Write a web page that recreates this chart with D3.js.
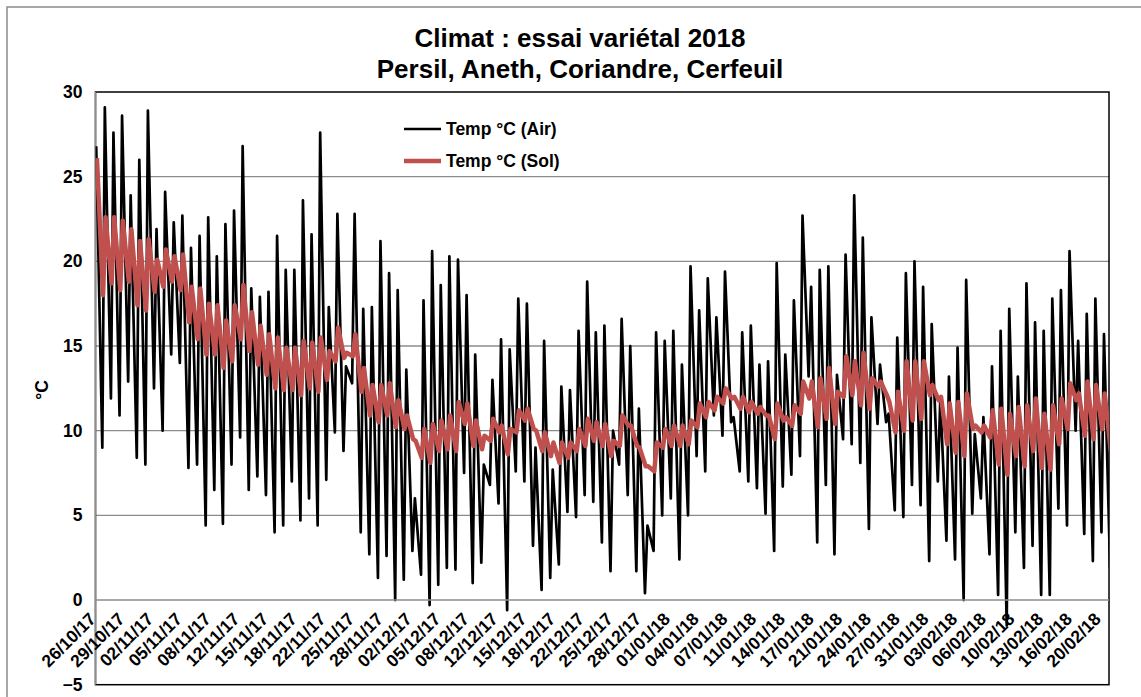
<!DOCTYPE html>
<html>
<head>
<meta charset="utf-8">
<script src="https://cdn.jsdelivr.net/npm/d3@7"></script>
<style>
  html, body { margin: 0; padding: 0; background: #fff; }
  svg { display: block; font-family: "Liberation Sans", Arial, sans-serif; }
</style>
</head>
<body>
<svg id="chart" width="1141" height="697"></svg>
<script>
// ---- Data ----
// Tick labels every 80 hourly records, first record 26/10/17 ~12:00
const tickLabels = ["26/10/17","29/10/17","02/11/17","05/11/17","08/11/17","12/11/17","15/11/17","18/11/17",
  "22/11/17","25/11/17","28/11/17","02/12/17","05/12/17","08/12/17","12/12/17","15/12/17","18/12/17",
  "22/12/17","25/12/17","28/12/17","01/01/18","04/01/18","07/01/18","11/01/18","14/01/18","17/01/18",
  "21/01/18","24/01/18","27/01/18","31/01/18","03/02/18","06/02/18","10/02/18","13/02/18","16/02/18","20/02/18"];
const tickStepHours = 80;
const totalHours = 2824;

// Daily air temperature maxima (afternoon) and following minima (early morning), °C
const airMax = [26.8,29.1,27.6,28.6,23.9,26.0,28.9,21.9,24.1,22.3,
  22.7,20.8,21.5,22.6,20.3,22.2,23.0,26.8,18.4,17.9,
  18.2,21.5,19.5,19.5,23.6,21.6,27.6,17.3,22.8,13.8,
  22.8,17.2,17.3,21.2,19.3,18.3,13.6,6.0,17.7,20.6,
  18.6,20.3,20.1,18.0,14.5,8.0,13.0,15.4,14.8,17.8,
  17.5,9.0,15.3,7.7,12.6,12.4,15.9,18.8,15.8,16.2,
  10.0,16.6,15.0,11.3,4.4,15.8,15.3,15.9,13.9,19.7,
  17.1,19.0,16.7,19.4,10.8,15.8,16.2,13.9,14.1,19.9,
  14.5,17.7,22.7,18.5,19.5,19.7,13.3,20.4,23.9,21.4,
  16.7,13.9,11.0,15.5,19.3,20.0,18.5,16.3,11.9,13.2,
  14.9,18.9,9.8,10.8,13.8,15.9,17.2,13.2,18.7,16.4,
  15.9,17.8,18.3,20.6,15.3,16.9,17.8,15.7];
const airMin = [9.0,11.9,10.9,12.9,8.4,8.0,12.5,10.0,14.5,14.0,
  7.8,8.0,4.4,6.5,4.5,8.0,9.6,6.5,7.3,6.2,
  4.0,4.4,7.0,4.7,6.0,4.4,7.1,9.9,8.8,12.8,
  4.0,2.7,1.3,2.6,0.0,1.2,2.9,1.5,-0.3,0.9,
  1.9,1.8,7.5,1.0,2.2,6.8,5.7,-0.6,7.6,7.0,
  3.2,0.6,1.3,2.1,5.2,4.9,6.2,5.8,3.4,1.7,
  8.0,6.2,1.7,0.4,2.9,5.0,6.0,2.4,5.0,8.5,
  7.6,10.9,9.7,10.5,7.6,7.0,6.6,5.1,2.9,6.7,
  7.4,8.5,13.2,3.4,6.8,2.7,9.5,9.2,8.1,4.2,
  10.4,10.5,5.3,4.9,6.8,5.6,2.3,7.0,3.5,2.4,
  0.0,5.1,6.0,2.7,0.3,-1.5,4.0,1.9,3.2,0.3,
  0.3,5.4,4.4,10.0,3.9,2.3,4.0,1.9];

// Daily soil temperature maxima and following minima, °C
const soilMax = [26.1,22.6,22.6,22.4,21.9,21.2,21.3,20.1,20.7,20.3,
  20.4,18.5,18.4,17.5,17.4,16.5,17.4,18.6,17.0,16.2,
  15.7,15.5,14.9,14.9,15.3,15.2,15.5,14.7,16.1,14.6,
  15.7,13.7,12.7,12.7,12.8,11.8,10.9,9.4,10.1,10.4,
  10.6,10.9,11.7,11.6,10.6,9.7,10.7,10.3,10.1,11.2,
  11.3,10.0,9.9,9.3,9.3,9.3,10.1,10.7,10.5,10.4,
  9.4,10.9,10.3,9.0,7.9,9.3,10.1,10.3,10.3,10.6,
  11.6,11.7,12.0,12.5,12.0,12.0,11.7,11.4,10.9,11.6,
  10.8,11.5,12.9,12.9,13.1,13.7,12.3,14.4,14.1,14.6,
  13.1,12.9,11.7,12.3,14.1,14.1,14.1,12.7,12.0,11.6,
  11.7,12.2,10.3,10.3,11.2,11.3,11.0,11.4,11.5,11.9,
  11.0,11.5,11.9,12.8,12.2,12.9,12.7,12.2];
const soilMin = [18.0,18.7,18.3,18.8,17.4,17.1,18.2,18.5,18.8,18.3,
  16.4,15.4,14.5,14.5,13.7,14.1,15.4,14.7,13.9,13.3,
  12.5,12.4,12.4,12.1,12.5,12.3,13.0,14.1,14.3,14.4,
  12.3,10.9,10.5,10.9,10.2,10.1,9.5,8.4,8.1,8.8,
  8.9,8.8,10.4,9.1,8.9,9.4,9.9,8.6,9.9,10.6,
  10.1,8.8,8.5,8.1,8.4,8.8,9.1,9.4,9.1,8.5,
  9.1,10.3,9.1,7.9,7.6,9.0,9.1,9.1,9.2,10.2,
  10.8,11.2,11.6,11.9,11.3,11.1,11.0,10.9,9.5,10.6,
  10.3,11.0,11.9,10.2,10.7,10.4,12.0,12.1,11.5,11.3,
  12.6,12.1,9.9,10.0,10.6,10.7,12.1,11.8,9.2,8.7,
  8.5,10.1,9.9,9.6,8.0,7.4,8.5,7.9,8.8,7.8,
  7.7,9.2,10.1,11.8,9.7,9.5,10.1,8.8];

const yTicks = [-5, 0, 5, 10, 15, 20, 25, 30];
const titleLines = ["Climat : essai variétal 2018", "Persil, Aneth, Coriandre, Cerfeuil"];
const seriesNames = ["Temp °C (Air)", "Temp °C (Sol)"];

// Hours (from first record) of daily extremes
const hourAirMax = 2, hourAirMin = 19, hourSoilMax = 4, hourSoilMin = 21;

function buildSeries(maxArr, minArr, hMax, hMin) {
  const pts = [];
  maxArr.forEach((v, d) => {
    pts.push({ t: d * 24 + hMax, v: v });
    pts.push({ t: d * 24 + hMin, v: minArr[d] });
  });
  return pts;
}
const airSeries = buildSeries(airMax, airMin, hourAirMax, hourAirMin);
const soilSeries = buildSeries(soilMax, soilMin, hourSoilMax, hourSoilMin);

// ---- Layout ----
const svg = d3.select("#chart");
const plot = { left: 95.5, right: 1109, top: 92, bottom: 684.7 };

const x = d3.scaleLinear().domain([0, totalHours]).range([plot.left, plot.right]);
const y = d3.scaleLinear().domain([-5, 30]).range([plot.bottom, plot.top]);

// Outer chart frame
svg.append("rect").attr("x", 7).attr("y", 7).attr("width", 1160).attr("height", 720)
  .attr("fill", "#fff").attr("stroke", "#8c8c8c").attr("stroke-width", 1.5);

// Gridlines
svg.append("g").selectAll("line").data(yTicks.filter(t => t > 0 && t < 30)).join("line")
  .attr("x1", plot.left).attr("x2", plot.right)
  .attr("y1", d => y(d)).attr("y2", d => y(d))
  .attr("stroke", "#8c8c8c").attr("stroke-width", 1.3);

// Plot area border
svg.append("rect").attr("x", plot.left).attr("y", plot.top)
  .attr("width", plot.right - plot.left).attr("height", plot.bottom - plot.top)
  .attr("fill", "none").attr("stroke", "#000").attr("stroke-width", 1.5);

// Left value axis line (gray)
svg.append("line").attr("x1", plot.left).attr("x2", plot.left)
  .attr("y1", plot.top).attr("y2", plot.bottom)
  .attr("stroke", "#8c8c8c").attr("stroke-width", 1.5);

// Clip for data
svg.append("clipPath").attr("id", "clip").append("rect")
  .attr("x", plot.left).attr("y", plot.top - 10)
  .attr("width", plot.right - plot.left).attr("height", plot.bottom - plot.top + 10);

const line = d3.line().x(d => x(d.t)).y(d => y(d.v));

const gData = svg.append("g").attr("clip-path", "url(#clip)");
gData.append("path").datum(airSeries).attr("d", line)
  .attr("fill", "none").attr("stroke", "#000").attr("stroke-width", 2.7)
  .attr("stroke-linejoin", "round");
gData.append("path").datum(soilSeries).attr("d", line)
  .attr("fill", "none").attr("stroke", "#C0504D").attr("stroke-width", 4.5)
  .attr("stroke-linejoin", "round");

// Horizontal (category) axis line at 0
svg.append("line").attr("x1", plot.left).attr("x2", plot.right)
  .attr("y1", y(0)).attr("y2", y(0))
  .attr("stroke", "#8c8c8c").attr("stroke-width", 1.5);

// Y axis labels
const yAxis = d3.axisLeft(y).tickValues(yTicks).tickSize(0).tickPadding(13).tickFormat(d3.format("d"));
const gy = svg.append("g").attr("transform", `translate(${plot.left},0)`).call(yAxis);
gy.select(".domain").remove();
gy.selectAll("text").attr("font-size", 17.5).attr("font-weight", "bold").attr("fill", "#000")
  .attr("font-family", "Liberation Sans, Arial, sans-serif");

// X axis labels (rotated)
const tickHours = tickLabels.map((_, i) => i * tickStepHours);
const xAxis = d3.axisBottom(x).tickValues(tickHours).tickSize(0)
  .tickFormat((d, i) => tickLabels[i]);
const gx = svg.append("g").attr("transform", `translate(0,${y(0)})`).call(xAxis);
gx.select(".domain").remove();
gx.selectAll("text")
  .attr("font-size", 17.5).attr("font-weight", "bold").attr("fill", "#000")
  .attr("font-family", "Liberation Sans, Arial, sans-serif")
  .attr("text-anchor", "end").attr("dy", null).attr("y", 0)
  .attr("transform", "translate(1,20) rotate(-45)");

// Y axis title
svg.append("text").attr("transform", "translate(48,390) rotate(-90)")
  .attr("text-anchor", "middle").attr("font-size", 17.5).attr("font-weight", "bold")
  .text("°C");

// Title
svg.append("g").selectAll("text").data(titleLines).join("text")
  .attr("x", 580).attr("y", (d, i) => 47 + i * 30.5)
  .attr("text-anchor", "middle").attr("font-size", 26).attr("font-weight", "bold")
  .text(d => d);

// Legend
const legend = svg.append("g");
const legendColors = ["#000", "#C0504D"];
const legendWidths = [2.7, 4.5];
seriesNames.forEach((name, i) => {
  const ly = 129 + i * 32;
  legend.append("line").attr("x1", 404).attr("x2", 441).attr("y1", ly).attr("y2", ly)
    .attr("stroke", legendColors[i]).attr("stroke-width", legendWidths[i]);
  legend.append("text").attr("x", 446).attr("y", ly + 6)
    .attr("font-size", 17.5).attr("font-weight", "bold").text(name);
});
</script>
</body>
</html>
